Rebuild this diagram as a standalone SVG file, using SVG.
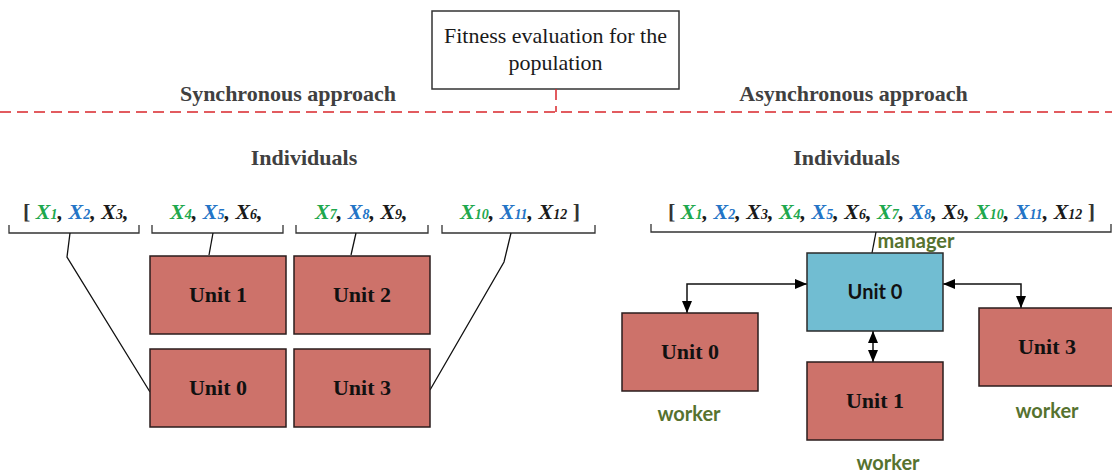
<svg xmlns="http://www.w3.org/2000/svg" width="1112" height="473" viewBox="0 0 1112 473">
<defs>
<style>
.hd{font-family:"Liberation Serif",serif;font-weight:bold;font-size:22px;fill:#404040;text-anchor:middle}
.ttl{font-family:"Liberation Serif",serif;font-size:22px;fill:#1a1a1a;text-anchor:middle}
.xs{font-family:"Liberation Serif",serif;font-weight:bold;font-style:italic;font-size:22px;fill:#1a1a1a}
.g{fill:#1ea84e}
.b{fill:#2474c6}
.k{fill:#1a1a1a}
.sub{font-size:14px}
.br{font-style:normal;fill:#333}
.brk{fill:none;stroke:#333;stroke-width:1.3}
.unit{fill:#cd726a;stroke:#2a1c1c;stroke-width:1.5}
.mgr{fill:#71bdd2;stroke:#2a2a2a;stroke-width:1.5}
.ut{font-family:"Liberation Serif",serif;font-weight:bold;font-size:22px;fill:#111;text-anchor:middle}
.ums{font-family:Lato,"Liberation Sans",sans-serif;font-weight:bold;font-size:20px;fill:#111;text-anchor:middle}
.role{font-family:Lato,"Liberation Sans",sans-serif;font-weight:bold;font-size:20px;fill:#56722f;text-anchor:middle}
.ln{fill:none;stroke:#111;stroke-width:1.3}
.arr{fill:none;stroke:#111;stroke-width:1.5;marker-end:url(#ah);marker-start:url(#ah)}
.dash{fill:none;stroke:#d9262b;stroke-width:1.5;stroke-dasharray:11 6}
</style>
<marker id="ah" viewBox="0 0 12 10" refX="12" refY="5" markerWidth="12" markerHeight="10" markerUnits="userSpaceOnUse" orient="auto-start-reverse">
<path d="M0,0 L12,5 L0,10 z" fill="#000"/>
</marker>
</defs>

<g id="title">
<rect x="432" y="11" width="247" height="78" fill="#fff" stroke="#333" stroke-width="1.5"/>
<text class="ttl" x="555.5" y="43">Fitness evaluation for the</text>
<text class="ttl" x="555.5" y="70">population</text>
</g>

<g id="divider">
<line class="dash" x1="556" y1="89" x2="556" y2="112"/>
<line class="dash" x1="0" y1="112" x2="1112" y2="112"/>
</g>

<g id="headings">
<text class="hd" x="288" y="101">Synchronous approach</text>
<text class="hd" x="853.5" y="101">Asynchronous approach</text>
<text class="hd" x="304" y="165">Individuals</text>
<text class="hd" x="846.5" y="165">Individuals</text>
</g>

<g id="sync-individuals">
<text class="xs" x="23" y="219"><tspan class="br">[ </tspan><tspan class="g">X<tspan class="sub">1</tspan></tspan>, <tspan class="b">X<tspan class="sub">2</tspan></tspan>, X<tspan class="sub">3</tspan>,</text>
<text class="xs" x="170" y="219"><tspan class="g">X<tspan class="sub">4</tspan></tspan>, <tspan class="b">X<tspan class="sub">5</tspan></tspan>, X<tspan class="sub">6</tspan>,</text>
<text class="xs" x="315" y="219"><tspan class="g">X<tspan class="sub">7</tspan></tspan>, <tspan class="b">X<tspan class="sub">8</tspan></tspan>, X<tspan class="sub">9</tspan>,</text>
<text class="xs" x="460" y="219"><tspan class="g">X<tspan class="sub">10</tspan></tspan>, <tspan class="b">X<tspan class="sub">11</tspan></tspan>, X<tspan class="sub">12</tspan><tspan class="br"> ]</tspan></text>
<path class="brk" d="M9,225 V233 H139 V225"/>
<path class="brk" d="M152,225 V233 H283 V225"/>
<path class="brk" d="M296,225 V233 H428 V225"/>
<path class="brk" d="M442,225 V233 H595 V225"/>
</g>

<g id="async-individuals">
<text class="xs" x="668" y="219"><tspan class="br">[ </tspan><tspan class="g">X<tspan class="sub">1</tspan></tspan>, <tspan class="b">X<tspan class="sub">2</tspan></tspan>, X<tspan class="sub">3</tspan>, <tspan class="g">X<tspan class="sub">4</tspan></tspan>, <tspan class="b">X<tspan class="sub">5</tspan></tspan>, X<tspan class="sub">6</tspan>, <tspan class="g">X<tspan class="sub">7</tspan></tspan>, <tspan class="b">X<tspan class="sub">8</tspan></tspan>, X<tspan class="sub">9</tspan>, <tspan class="g">X<tspan class="sub">10</tspan></tspan>, <tspan class="b">X<tspan class="sub">11</tspan></tspan>, X<tspan class="sub">12</tspan><tspan class="br"> ]</tspan></text>
<path class="brk" d="M651,224 V232 H1111 V224"/>
</g>

<g id="connectors">
<path class="ln" d="M70,233 L67,257 L150,392"/>
<path class="ln" d="M213,233 L209,255"/>
<path class="ln" d="M356,233 L351,255"/>
<path class="ln" d="M511,233 L504,262 L430,390"/>
<path class="ln" d="M876,232 L872,253"/>
<path class="arr" d="M807,284 H687 V313"/>
<path class="arr" d="M943,284 H1021 V308"/>
<path class="arr" d="M873,331 V362"/>
</g>

<g id="sync-unit1">
<rect class="unit" x="150" y="256" width="136" height="78"/>
<text class="ut" x="218" y="302">Unit 1</text>
</g>
<g id="sync-unit2">
<rect class="unit" x="294" y="256" width="136" height="78"/>
<text class="ut" x="362" y="302">Unit 2</text>
</g>
<g id="sync-unit0">
<rect class="unit" x="150" y="349" width="136" height="78"/>
<text class="ut" x="218" y="395">Unit 0</text>
</g>
<g id="sync-unit3">
<rect class="unit" x="294" y="349" width="136" height="78"/>
<text class="ut" x="362" y="395">Unit 3</text>
</g>

<g id="manager-unit0">
<rect class="mgr" x="807" y="253" width="136" height="78"/>
<text class="ums" x="875" y="299">Unit 0</text>
<text class="role" x="916" y="248">manager</text>
</g>
<g id="worker-unit0">
<rect class="unit" x="622" y="313" width="136" height="78"/>
<text class="ut" x="690" y="359">Unit 0</text>
<text class="role" x="689" y="421">worker</text>
</g>
<g id="worker-unit1">
<rect class="unit" x="807" y="362" width="136" height="78"/>
<text class="ut" x="875" y="408">Unit 1</text>
<text class="role" x="888" y="470">worker</text>
</g>
<g id="worker-unit3">
<rect class="unit" x="979" y="308" width="137" height="78"/>
<text class="ut" x="1047" y="354">Unit 3</text>
<text class="role" x="1047" y="418">worker</text>
</g>
</svg>
